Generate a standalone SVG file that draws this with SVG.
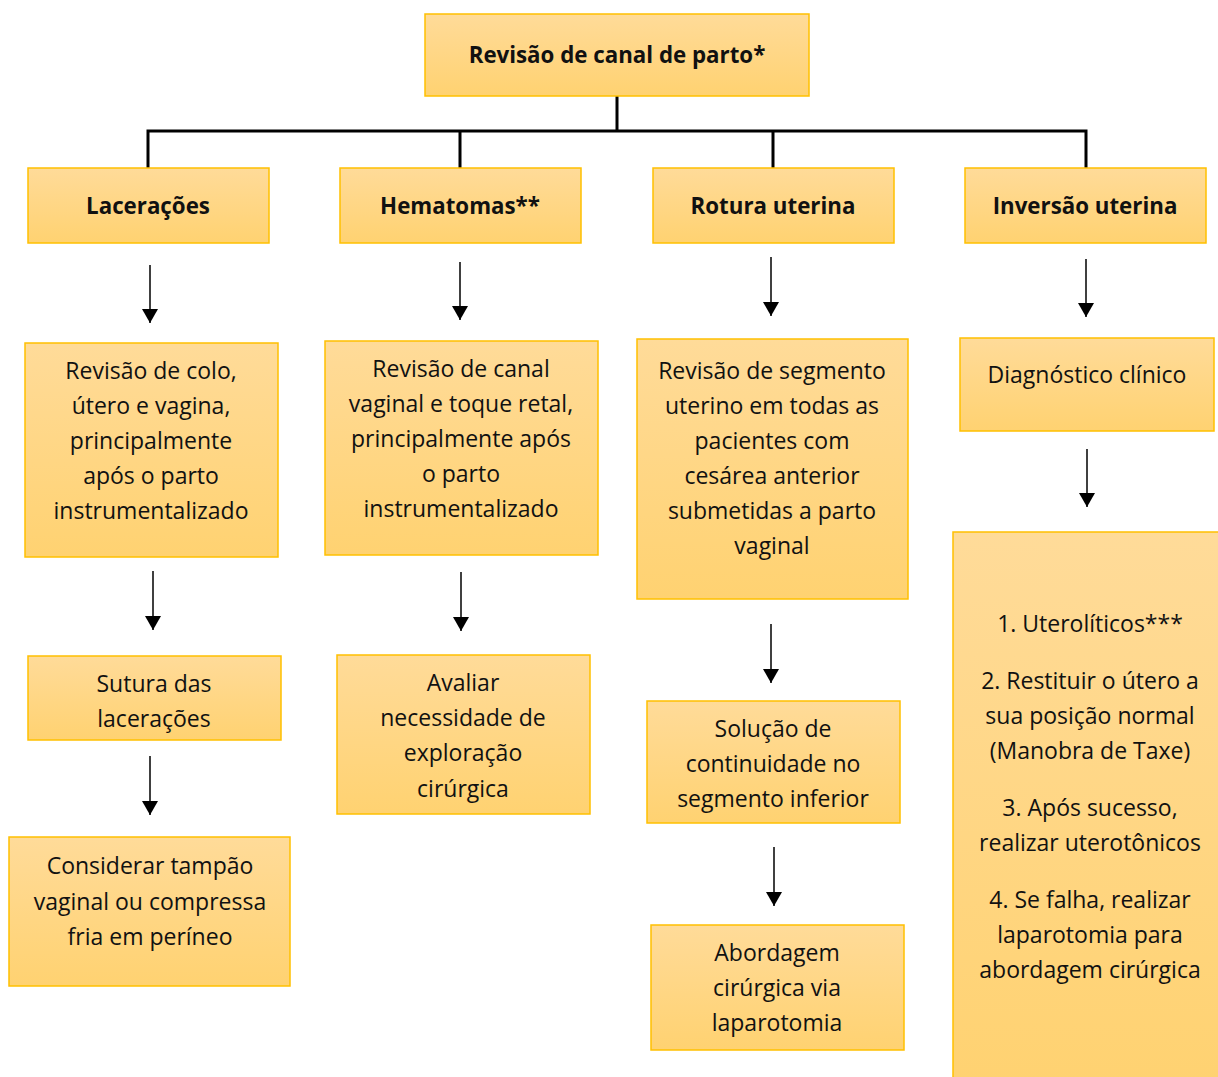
<svg xmlns="http://www.w3.org/2000/svg" width="1218" height="1077" viewBox="0 0 1218 1077">
  <defs>
    <linearGradient id="boxFill" x1="0" y1="0" x2="0" y2="1">
      <stop offset="0" stop-color="#FFDB99"/>
      <stop offset="1" stop-color="#FFD271"/>
    </linearGradient>
    <marker id="arrowHead" viewBox="0 0 14 16" refX="14" refY="8" markerWidth="14" markerHeight="16" markerUnits="userSpaceOnUse" orient="auto">
      <path d="M0,0 L14,8 L0,16 Z" fill="#000"/>
    </marker>
  </defs>
  <style>
    .box { fill: url(#boxFill); stroke: #FFC000; stroke-width: 1.5; }
    .txt { font-family: "Open Sans", "Liberation Sans", sans-serif; font-size: 23px; fill: #111; text-anchor: middle; }
    .bold { font-weight: bold; font-size: 22.3px; }
    .tree { fill: none; stroke: #000; stroke-width: 3; }
    .arrow { fill: none; stroke: #000; stroke-width: 1.5; marker-end: url(#arrowHead); }
  </style>
  <rect width="1218" height="1077" fill="#fff"/>

  <g id="connectors">
    <path class="tree" d="M617,96 V131 M148,168 V131 H1086 V168 M460,131 V168 M773,131 V168"/>
    <line class="arrow" x1="150" y1="265" x2="150" y2="323"/>
    <line class="arrow" x1="460" y1="262" x2="460" y2="320"/>
    <line class="arrow" x1="771" y1="257" x2="771" y2="316"/>
    <line class="arrow" x1="1086" y1="259" x2="1086" y2="317"/>
    <line class="arrow" x1="153" y1="571" x2="153" y2="630"/>
    <line class="arrow" x1="461" y1="572" x2="461" y2="631"/>
    <line class="arrow" x1="771" y1="624" x2="771" y2="683"/>
    <line class="arrow" x1="1087" y1="449" x2="1087" y2="507"/>
    <line class="arrow" x1="150" y1="756" x2="150" y2="815"/>
    <line class="arrow" x1="774" y1="847" x2="774" y2="906"/>
  </g>

  <g id="revisao-canal">
    <rect class="box" x="425" y="14" width="384" height="82"/>
    <text class="txt bold" x="617" y="63">Revisão de canal de parto*</text>
  </g>

  <g id="laceracoes">
    <rect class="box" x="28" y="168" width="241" height="75"/>
    <text class="txt bold" x="148" y="214">Lacerações</text>
  </g>
  <g id="hematomas">
    <rect class="box" x="340" y="168" width="241" height="75"/>
    <text class="txt bold" x="460" y="214">Hematomas**</text>
  </g>
  <g id="rotura">
    <rect class="box" x="653" y="168" width="241" height="75"/>
    <text class="txt bold" x="773" y="214">Rotura uterina</text>
  </g>
  <g id="inversao">
    <rect class="box" x="965" y="168" width="241" height="75"/>
    <text class="txt bold" x="1085" y="214">Inversão uterina</text>
  </g>

  <g id="revisao-colo">
    <rect class="box" x="25" y="343" width="253" height="214"/>
    <text class="txt" x="151" y="379">Revisão de colo,</text>
    <text class="txt" x="151" y="414">útero e vagina,</text>
    <text class="txt" x="151" y="449">principalmente</text>
    <text class="txt" x="151" y="484">após o parto</text>
    <text class="txt" x="151" y="519">instrumentalizado</text>
  </g>
  <g id="revisao-vaginal">
    <rect class="box" x="325" y="341" width="273" height="214"/>
    <text class="txt" x="461" y="377">Revisão de canal</text>
    <text class="txt" x="461" y="412">vaginal e toque retal,</text>
    <text class="txt" x="461" y="447">principalmente após</text>
    <text class="txt" x="461" y="482">o parto</text>
    <text class="txt" x="461" y="517">instrumentalizado</text>
  </g>
  <g id="revisao-segmento">
    <rect class="box" x="637" y="339" width="271" height="260"/>
    <text class="txt" x="772" y="379">Revisão de segmento</text>
    <text class="txt" x="772" y="414">uterino em todas as</text>
    <text class="txt" x="772" y="449">pacientes com</text>
    <text class="txt" x="772" y="484">cesárea anterior</text>
    <text class="txt" x="772" y="519">submetidas a parto</text>
    <text class="txt" x="772" y="554">vaginal</text>
  </g>
  <g id="diagnostico">
    <rect class="box" x="960" y="338" width="254" height="93"/>
    <text class="txt" x="1087" y="383">Diagnóstico clínico</text>
  </g>

  <g id="sutura">
    <rect class="box" x="28" y="656" width="253" height="84"/>
    <text class="txt" x="154" y="692">Sutura das</text>
    <text class="txt" x="154" y="727">lacerações</text>
  </g>
  <g id="avaliar">
    <rect class="box" x="337" y="655" width="253" height="159"/>
    <text class="txt" x="463" y="691">Avaliar</text>
    <text class="txt" x="463" y="726">necessidade de</text>
    <text class="txt" x="463" y="761">exploração</text>
    <text class="txt" x="463" y="797">cirúrgica</text>
  </g>
  <g id="solucao">
    <rect class="box" x="647" y="701" width="253" height="122"/>
    <text class="txt" x="773" y="737">Solução de</text>
    <text class="txt" x="773" y="772">continuidade no</text>
    <text class="txt" x="773" y="807">segmento inferior</text>
  </g>
  <g id="conduta-inversao">
    <rect class="box" x="953" y="532" width="270" height="550"/>
    <text class="txt" x="1090" y="632">1. Uterolíticos***</text>
    <text class="txt" x="1090" y="689">2. Restituir o útero a</text>
    <text class="txt" x="1090" y="724">sua posição normal</text>
    <text class="txt" x="1090" y="759">(Manobra de Taxe)</text>
    <text class="txt" x="1090" y="816">3. Após sucesso,</text>
    <text class="txt" x="1090" y="851">realizar uterotônicos</text>
    <text class="txt" x="1090" y="908">4. Se falha, realizar</text>
    <text class="txt" x="1090" y="943">laparotomia para</text>
    <text class="txt" x="1090" y="978">abordagem cirúrgica</text>
  </g>

  <g id="considerar">
    <rect class="box" x="9" y="837" width="281" height="149"/>
    <text class="txt" x="150" y="874">Considerar tampão</text>
    <text class="txt" x="150" y="910">vaginal ou compressa</text>
    <text class="txt" x="150" y="945">fria em períneo</text>
  </g>
  <g id="abordagem">
    <rect class="box" x="651" y="925" width="253" height="125"/>
    <text class="txt" x="777" y="961">Abordagem</text>
    <text class="txt" x="777" y="996">cirúrgica via</text>
    <text class="txt" x="777" y="1031">laparotomia</text>
  </g>
</svg>
